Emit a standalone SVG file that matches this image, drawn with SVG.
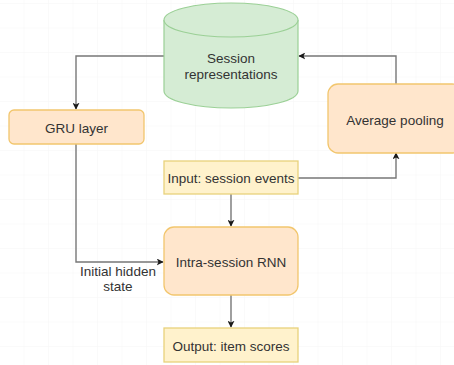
<svg xmlns="http://www.w3.org/2000/svg" width="454" height="365" viewBox="0 0 454 365">
  <defs>
    <pattern id="grid" x="0" y="4" width="24.5" height="24.5" patternUnits="userSpaceOnUse">
      <path d="M24.5 0V24.5M0 24.5H24.5" fill="none" stroke="#f6f6f6" stroke-width="1"/>
    </pattern>
    <marker id="arrow" viewBox="0 0 10 10" refX="9" refY="5" markerWidth="7" markerHeight="7" markerUnits="userSpaceOnUse" orient="auto">
      <path d="M0 0L10 5L0 10L2.5 5Z" fill="#1a1a1a"/>
    </marker>
    <style>
      .lbl { font-family: "Liberation Sans", Arial, sans-serif; font-size: 13.5px; fill: #333333; text-anchor: middle; dominant-baseline: central; }
      .edge { fill: none; stroke: #777777; stroke-width: 1.4; }
      .proc { fill: #ffe6cc; stroke: #f2c66d; stroke-width: 1.3; }
      .io { fill: #fff2cc; stroke: #e8d27c; stroke-width: 1.3; }
      .store { fill: #d5ecd4; stroke: #9bd096; stroke-width: 1.2; }
    </style>
  </defs>

  <rect width="454" height="365" fill="#ffffff"/>
  <rect width="454" height="365" fill="url(#grid)"/>

  <g id="connectors">
    <!-- cylinder to GRU layer -->
    <path class="edge" d="M164 56H76V109" marker-end="url(#arrow)"/>
    <!-- GRU layer to intra-session RNN (initial hidden state) -->
    <path class="edge" d="M76 144V262H163" marker-end="url(#arrow)"/>
    <!-- input events to RNN -->
    <path class="edge" d="M231 194V226" marker-end="url(#arrow)"/>
    <!-- RNN to output -->
    <path class="edge" d="M231 295V327" marker-end="url(#arrow)"/>
    <!-- input events to average pooling -->
    <path class="edge" d="M298 178H396V153" marker-end="url(#arrow)"/>
    <!-- average pooling back to session representations -->
    <path class="edge" d="M396 84V56H299" marker-end="url(#arrow)"/>
    <text class="lbl" x="118" y="271" font-size="12.5">Initial hidden</text>
    <text class="lbl" x="118" y="286" font-size="12.5">state</text>
  </g>

  <g id="session-representations">
    <path class="store" d="M164 20V91A67 17 0 0 0 298 91V20A67 17 0 0 0 164 20Z"/>
    <path class="store" d="M164 20A67 17 0 0 0 298 20" fill="none"/>
    <text class="lbl" x="231" y="58">Session</text>
    <text class="lbl" x="231" y="74">representations</text>
  </g>

  <g id="gru-layer">
    <rect class="proc" x="9" y="110" width="135" height="34" rx="5"/>
    <text class="lbl" x="76.5" y="128">GRU layer</text>
  </g>

  <g id="average-pooling">
    <rect class="proc" x="328" y="84" width="134" height="69" rx="10"/>
    <text class="lbl" x="395" y="120">Average pooling</text>
  </g>

  <g id="input-events">
    <rect class="io" x="164" y="161" width="134" height="33"/>
    <text class="lbl" x="231" y="178">Input: session events</text>
  </g>

  <g id="intra-session-rnn">
    <rect class="proc" x="164" y="227" width="134" height="68" rx="10"/>
    <text class="lbl" x="231" y="262">Intra-session RNN</text>
  </g>

  <g id="output-scores">
    <rect class="io" x="164" y="328" width="134" height="34"/>
    <text class="lbl" x="231" y="346">Output: item scores</text>
  </g>
</svg>
